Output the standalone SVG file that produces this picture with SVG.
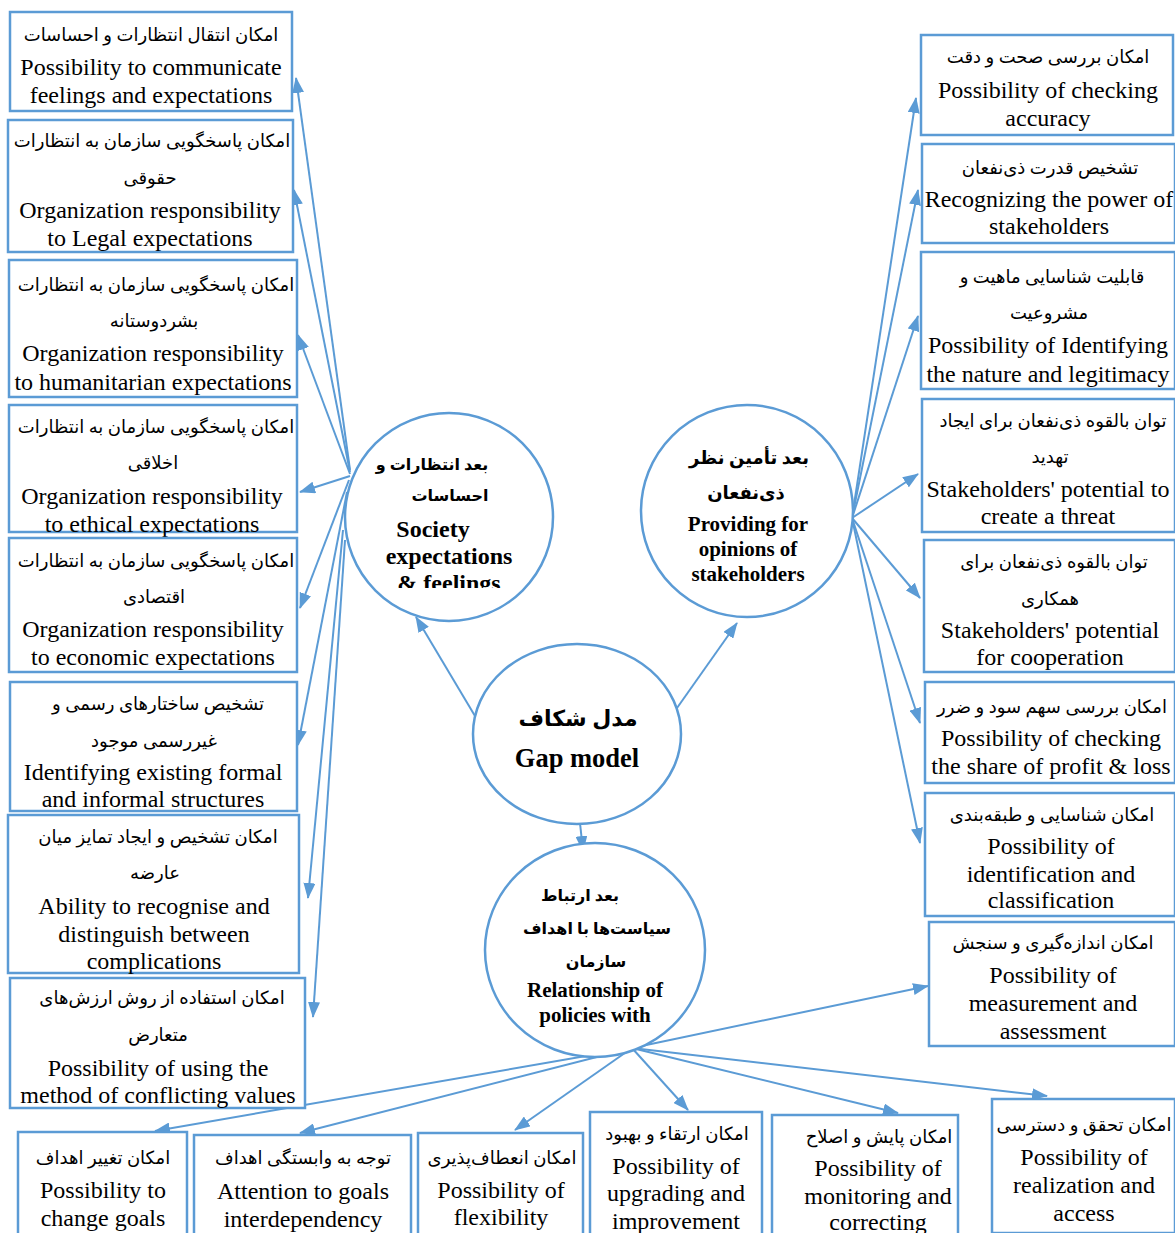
<svg xmlns="http://www.w3.org/2000/svg" width="1175" height="1233" viewBox="0 0 1175 1233">
<style>
.box{fill:#fff;stroke:#5b9bd5;stroke-width:2.5}
.circ{fill:#fff;stroke:#5b9bd5;stroke-width:2.5}
.con{fill:none;stroke:#5b9bd5;stroke-width:2}
.fa{font-family:"Liberation Serif","DejaVu Sans",serif;font-size:18px;fill:#000;text-anchor:middle}
.en{font-family:"Liberation Serif","DejaVu Serif",serif;font-size:24px;fill:#000;text-anchor:middle}
.fab{font-family:"Liberation Serif","DejaVu Sans",serif;font-size:16px;font-weight:bold;fill:#000;text-anchor:middle}
.enb{font-family:"Liberation Serif","DejaVu Serif",serif;font-size:24px;font-weight:bold;fill:#000;text-anchor:middle}
</style>
<defs>
<marker id="ah" viewBox="0 0 16 12" refX="15" refY="6" markerWidth="16" markerHeight="12" markerUnits="userSpaceOnUse" orient="auto"><path d="M0,0 L16,6 L0,12 z" fill="#5b9bd5"/></marker>
<clipPath id="c1"><rect x="340" y="400" width="220" height="188"/></clipPath>
</defs>
<rect width="1175" height="1233" fill="#fff"/>

<g id="connectors">
<path class="con" marker-end="url(#ah)" d="M350,470 L296,78"/>
<path class="con" marker-end="url(#ah)" d="M350,472 L294,190"/>
<path class="con" marker-end="url(#ah)" d="M350,474 L298,335"/>
<path class="con" marker-end="url(#ah)" d="M350,476 L300,492"/>
<path class="con" marker-end="url(#ah)" d="M349,480 L300,608"/>
<path class="con" marker-end="url(#ah)" d="M347,492 L298,745"/>
<path class="con" marker-end="url(#ah)" d="M343,530 L308,898"/>
<path class="con" marker-end="url(#ah)" d="M345,540 L313,1017"/>
<path class="con" marker-end="url(#ah)" d="M852,518 L916,98"/>
<path class="con" marker-end="url(#ah)" d="M852,518 L918,190"/>
<path class="con" marker-end="url(#ah)" d="M852,518 L918,316"/>
<path class="con" marker-end="url(#ah)" d="M852,518 L918,474"/>
<path class="con" marker-end="url(#ah)" d="M852,518 L920,598"/>
<path class="con" marker-end="url(#ah)" d="M852,518 L920,723"/>
<path class="con" marker-end="url(#ah)" d="M852,518 L920,843"/>
<path class="con" marker-end="url(#ah)" d="M475,716 L416,617"/>
<path class="con" marker-end="url(#ah)" d="M677,708 L737,623"/>
<path class="con" marker-end="url(#ah)" d="M580,823 L583,851"/>
<path class="con" marker-end="url(#ah)" d="M632,1048 L155,1131"/>
<path class="con" marker-end="url(#ah)" d="M632,1048 L300,1133"/>
<path class="con" marker-end="url(#ah)" d="M632,1048 L515,1130"/>
<path class="con" marker-end="url(#ah)" d="M632,1048 L688,1110"/>
<path class="con" marker-end="url(#ah)" d="M632,1048 L898,1113"/>
<path class="con" marker-end="url(#ah)" d="M632,1048 L1047,1096"/>
<path class="con" marker-end="url(#ah)" d="M632,1048 L928,986"/>
</g>

<g id="n-society">
<circle class="circ" cx="449" cy="517" r="104"/>
<g clip-path="url(#c1)">
<text class="fab" x="432" y="470">بعد انتظارات و</text>
<text class="fab" x="450" y="501">احساسات</text>
<text class="enb" x="433" y="537">Society</text>
<text class="enb" x="449" y="564">expectations</text>
<text class="enb" x="449" y="591">&amp; feelings</text>
</g>
</g>

<g id="n-stakeholders">
<circle class="circ" cx="747" cy="511" r="106"/>
<text class="fab" x="749" y="464" style="font-size:18px">بعد تأمین نظر</text>
<text class="fab" x="746" y="499" style="font-size:18px">ذی‌نفعان</text>
<text class="enb" x="748" y="531" style="font-size:21px">Providing for</text>
<text class="enb" x="748" y="556" style="font-size:21px">opinions of</text>
<text class="enb" x="748" y="581" style="font-size:21px">stakeholders</text>
</g>

<g id="n-gap">
<ellipse class="circ" cx="577" cy="734" rx="104" ry="90"/>
<text class="fab" x="578" y="726" style="font-size:22px">مدل شکاف</text>
<text class="enb" x="577" y="767" style="font-size:26.5px">Gap model</text>
</g>

<g id="n-policies">
<ellipse class="circ" cx="595" cy="950" rx="110" ry="107"/>
<text class="fab" x="580" y="901">بعد ارتباط</text>
<text class="fab" x="597" y="934">سیاست‌ها با اهداف</text>
<text class="fab" x="596" y="967">سازمان</text>
<text class="enb" x="595" y="997" style="font-size:21px">Relationship of</text>
<text class="enb" x="595" y="1022" style="font-size:21px">policies with</text>
</g>

<g id="n-l1">
<rect class="box" x="10" y="12" width="282" height="99"/>
<text class="fa" x="151" y="41">امکان انتقال انتظارات و احساسات</text>
<text class="en" x="151" y="75">Possibility to communicate</text>
<text class="en" x="151" y="103">feelings and expectations</text>
</g>
<g id="n-l2">
<rect class="box" x="8" y="120" width="285" height="132"/>
<text class="fa" x="152" y="147">امکان پاسخگویی سازمان به انتظارات</text>
<text class="fa" x="150" y="184">حقوقی</text>
<text class="en" x="150" y="218">Organization responsibility</text>
<text class="en" x="150" y="246">to Legal expectations</text>
</g>
<g id="n-l3">
<rect class="box" x="9" y="260" width="288" height="137"/>
<text class="fa" x="156" y="291">امکان پاسخگویی سازمان به انتظارات</text>
<text class="fa" x="154" y="327">بشردوستانه</text>
<text class="en" x="153" y="361">Organization responsibility</text>
<text class="en" x="153" y="390">to humanitarian expectations</text>
</g>
<g id="n-l4">
<rect class="box" x="9" y="405" width="288" height="127"/>
<text class="fa" x="156" y="433">امکان پاسخگویی سازمان به انتظارات</text>
<text class="fa" x="153" y="469">اخلاقی</text>
<text class="en" x="152" y="504">Organization responsibility</text>
<text class="en" x="152" y="532">to ethical expectations</text>
</g>
<g id="n-l5">
<rect class="box" x="9" y="538" width="288" height="134"/>
<text class="fa" x="156" y="567">امکان پاسخگویی سازمان به انتظارات</text>
<text class="fa" x="154" y="603">اقتصادی</text>
<text class="en" x="153" y="637">Organization responsibility</text>
<text class="en" x="153" y="665">to economic expectations</text>
</g>
<g id="n-l6">
<rect class="box" x="10" y="682" width="287" height="129"/>
<text class="fa" x="158" y="710">تشخیص ساختارهای رسمی و</text>
<text class="fa" x="154" y="747">غیررسمی موجود</text>
<text class="en" x="153" y="780">Identifying existing formal</text>
<text class="en" x="153" y="807">and informal structures</text>
</g>
<g id="n-l7">
<rect class="box" x="8" y="815" width="291" height="158"/>
<text class="fa" x="158" y="843">امکان تشخیص و ایجاد تمایز میان</text>
<text class="fa" x="155" y="879">عارضه</text>
<text class="en" x="154" y="914">Ability to recognise and</text>
<text class="en" x="154" y="942">distinguish between</text>
<text class="en" x="154" y="969">complications</text>
</g>
<g id="n-l8">
<rect class="box" x="10" y="978" width="295" height="130"/>
<text class="fa" x="162" y="1004">امکان استفاده از روش ارزش‌های</text>
<text class="fa" x="158" y="1041">متعارض</text>
<text class="en" x="158" y="1076">Possibility of using the</text>
<text class="en" x="158" y="1103">method of conflicting values</text>
</g>

<g id="n-r1">
<rect class="box" x="921" y="35" width="252" height="100"/>
<text class="fa" x="1048" y="63">امکان بررسی صحت و دقت</text>
<text class="en" x="1048" y="98">Possibility of checking</text>
<text class="en" x="1048" y="126">accuracy</text>
</g>
<g id="n-r2">
<rect class="box" x="922" y="144" width="253" height="99"/>
<text class="fa" x="1050" y="174">تشخیص قدرت ذی‌نفعان</text>
<text class="en" x="1049" y="207">Recognizing the power of</text>
<text class="en" x="1049" y="234">stakeholders</text>
</g>
<g id="n-r3">
<rect class="box" x="921" y="252" width="254" height="137"/>
<text class="fa" x="1052" y="283">قابلیت شناسایی ماهیت و</text>
<text class="fa" x="1049" y="319">مشروعیت</text>
<text class="en" x="1048" y="353">Possibility of Identifying</text>
<text class="en" x="1048" y="382">the nature and legitimacy</text>
</g>
<g id="n-r4">
<rect class="box" x="922" y="399" width="253" height="133"/>
<text class="fa" x="1053" y="427">توان بالقوه ذی‌نفعان برای ایجاد</text>
<text class="fa" x="1050" y="463">تهدید</text>
<text class="en" x="1048" y="497">Stakeholders' potential to</text>
<text class="en" x="1048" y="524">create a threat</text>
</g>
<g id="n-r5">
<rect class="box" x="924" y="540" width="251" height="132"/>
<text class="fa" x="1054" y="568">توان بالقوه ذی‌نفعان برای</text>
<text class="fa" x="1050" y="605">همکاری</text>
<text class="en" x="1050" y="638">Stakeholders' potential</text>
<text class="en" x="1050" y="665">for cooperation</text>
</g>
<g id="n-r6">
<rect class="box" x="925" y="682" width="250" height="101"/>
<text class="fa" x="1052" y="713">امکان بررسی سهم سود و ضرر</text>
<text class="en" x="1051" y="746">Possibility of checking</text>
<text class="en" x="1051" y="774">the share of profit &amp; loss</text>
</g>
<g id="n-r7">
<rect class="box" x="925" y="793" width="250" height="123"/>
<text class="fa" x="1052" y="821">امکان شناسایی و طبقه‌بندی</text>
<text class="en" x="1051" y="854">Possibility of</text>
<text class="en" x="1051" y="882">identification and</text>
<text class="en" x="1051" y="908">classification</text>
</g>
<g id="n-r8">
<rect class="box" x="929" y="922" width="246" height="124"/>
<text class="fa" x="1053" y="949">امکان اندازه‌گیری و سنجش</text>
<text class="en" x="1053" y="983">Possibility of</text>
<text class="en" x="1053" y="1011">measurement and</text>
<text class="en" x="1053" y="1039">assessment</text>
</g>

<g id="n-b1">
<rect class="box" x="18" y="1132" width="169" height="110"/>
<text class="fa" x="103" y="1164">امکان تغییر اهداف</text>
<text class="en" x="103" y="1198">Possibility to</text>
<text class="en" x="103" y="1226">change goals</text>
</g>
<g id="n-b2">
<rect class="box" x="194" y="1135" width="217" height="107"/>
<text class="fa" x="303" y="1164">توجه به وابستگی اهداف</text>
<text class="en" x="303" y="1199">Attention to goals</text>
<text class="en" x="303" y="1227">interdependency</text>
</g>
<g id="n-b3">
<rect class="box" x="418" y="1133" width="165" height="109"/>
<text class="fa" x="502" y="1164">امکان انعطاف‌پذیری</text>
<text class="en" x="501" y="1198">Possibility of</text>
<text class="en" x="501" y="1225">flexibility</text>
</g>
<g id="n-b4">
<rect class="box" x="590" y="1112" width="172" height="130"/>
<text class="fa" x="677" y="1140">امکان ارتقاء و بهبود</text>
<text class="en" x="676" y="1174">Possibility of</text>
<text class="en" x="676" y="1201">upgrading and</text>
<text class="en" x="676" y="1229">improvement</text>
</g>
<g id="n-b5">
<rect class="box" x="772" y="1115" width="186" height="127"/>
<text class="fa" x="879" y="1143">امکان پایش و اصلاح</text>
<text class="en" x="878" y="1176">Possibility of</text>
<text class="en" x="878" y="1204">monitoring and</text>
<text class="en" x="878" y="1230">correcting</text>
</g>
<g id="n-b6">
<rect class="box" x="992" y="1099" width="183" height="134"/>
<text class="fa" x="1084" y="1131">امکان تحقق و دسترسی</text>
<text class="en" x="1084" y="1165">Possibility of</text>
<text class="en" x="1084" y="1193">realization and</text>
<text class="en" x="1084" y="1221">access</text>
</g>
</svg>
